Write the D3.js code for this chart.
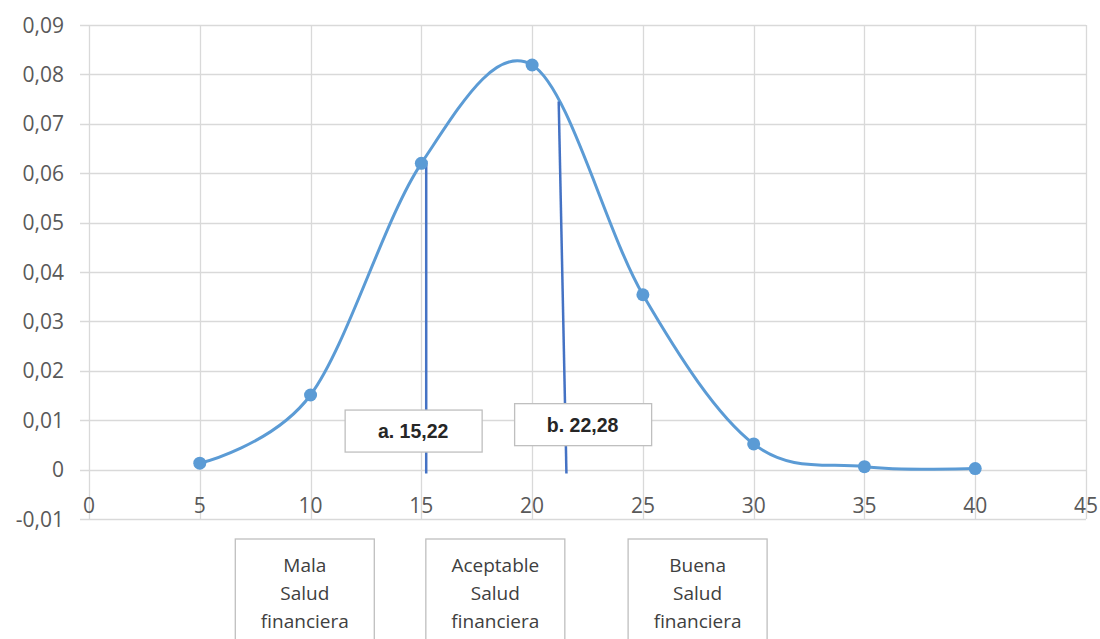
<!DOCTYPE html>
<html><head><meta charset="utf-8">
<script src="https://cdn.jsdelivr.net/npm/d3@7"></script>
<style>html,body{margin:0;padding:0;background:#fff;}svg{display:block;}</style>
</head><body>
<svg id="chart" width="1100" height="639"></svg>
<script>
// ---- data ----
const xValues = [5, 10, 15, 20, 25, 30, 35, 40];
const yValues = [0.0013, 0.0151, 0.0620, 0.0819, 0.0354, 0.0052, 0.0006, 0.0002];
const xTicks = [0, 5, 10, 15, 20, 25, 30, 35, 40, 45];
const yTicks = [-0.01, 0, 0.01, 0.02, 0.03, 0.04, 0.05, 0.06, 0.07, 0.08, 0.09];
const markerNames = ["a. 15,22", "b. 22,28"];
const markerTopX = [15.22, 21.2];
const markerTopY = [0.0625, 0.0745];
const markerBottomX = [15.22, 21.55];
const markerBottomY = [-0.0008, -0.0008];
const markerLabelX = [14.63, 22.28];
const markerLabelY = [0.0078, 0.0091];
const categoryLines = [["Mala", "Salud", "financiera"], ["Aceptable", "Salud", "financiera"], ["Buena", "Salud", "financiera"]];
const categoryX = [9.74, 18.34, 27.47];

// ---- layout ----
const svg = d3.select("#chart");
const x = d3.scaleLinear().domain([0, 45]).range([89, 1086]);
const y = d3.scaleLinear().domain([-0.01, 0.09]).range([519, 25]);
const yFmt = v => (Math.abs(v) < 1e-12 ? "0" : d3.format(".2f")(v).replace(".", ",").replace("\u2212", "-"));
const grid = "#d9d9d9";
const txt = "#595959";

// horizontal gridlines (with small tick extension to the left)
svg.append("g").selectAll("line").data(yTicks).join("line")
  .attr("x1", x(0) - 9).attr("x2", x(45))
  .attr("y1", d => Math.round(y(d)) + 0.5).attr("y2", d => Math.round(y(d)) + 0.5)
  .attr("stroke", grid).attr("stroke-width", 1.3);
// vertical gridlines
svg.append("g").selectAll("line").data(xTicks).join("line")
  .attr("x1", d => Math.round(x(d)) + 0.5).attr("x2", d => Math.round(x(d)) + 0.5)
  .attr("y1", y(0.09)).attr("y2", y(-0.01))
  .attr("stroke", grid).attr("stroke-width", 1.3);

// y labels
svg.append("g").selectAll("text").data(yTicks).join("text")
  .attr("x", 64).attr("y", d => y(d)).attr("dy", "0.36em")
  .attr("text-anchor", "end").attr("fill", txt)
  .style("font-family", "'Open Sans', sans-serif").style("font-size", "21px")
  .text(yFmt);
// x labels
svg.append("g").selectAll("text").data(xTicks).join("text")
  .attr("x", d => x(d)).attr("y", 505).attr("dy", "0.36em")
  .attr("text-anchor", "middle").attr("fill", txt)
  .style("font-family", "'Open Sans', sans-serif").style("font-size", "21px")
  .text(d => d);

// curve (Excel-style smoothing = uniform Catmull-Rom)
const pts = xValues.map((v, i) => [v, yValues[i]]);
const line = d3.line().x(d => x(d[0])).y(d => y(d[1])).curve(d3.curveCardinal.tension(0));
svg.append("path").datum(pts).attr("d", line)
  .attr("fill", "none").attr("stroke", "#5b9bd5").attr("stroke-width", 3).attr("stroke-linecap", "round");

// marker vertical lines
svg.append("g").selectAll("line").data(markerNames).join("line")
  .attr("x1", (d, i) => x(markerTopX[i])).attr("y1", (d, i) => y(markerTopY[i]))
  .attr("x2", (d, i) => x(markerBottomX[i])).attr("y2", (d, i) => y(markerBottomY[i]))
  .attr("stroke", "#4472c4").attr("stroke-width", 2.5);

// points
svg.append("g").selectAll("circle").data(pts).join("circle")
  .attr("cx", d => x(d[0])).attr("cy", d => y(d[1])).attr("r", 6.5)
  .attr("fill", "#5b9bd5");

// marker label boxes
const lb = svg.append("g").selectAll("g").data(markerNames).join("g")
  .attr("transform", (d, i) => `translate(${x(markerLabelX[i])},${y(markerLabelY[i])})`);
lb.append("rect").attr("x", -68).attr("y", -21).attr("width", 137).attr("height", 42)
  .attr("fill", "#fff").attr("stroke", "#bfbfbf").attr("stroke-width", 1.3);
lb.append("text").attr("text-anchor", "middle").attr("dy", "0.36em")
  .attr("fill", "#262626").style("font-family", "'Liberation Sans', Arial, sans-serif")
  .style("font-weight", "bold").style("font-size", "19.5px").text(d => d);

// category boxes below
const cb = svg.append("g").selectAll("g").data(categoryLines).join("g")
  .attr("transform", (d, i) => `translate(${x(categoryX[i])},539)`);
cb.append("rect").attr("x", -69.5).attr("y", 0).attr("width", 139).attr("height", 110)
  .attr("fill", "#fff").attr("stroke", "#bfbfbf").attr("stroke-width", 1.3);
cb.each(function(lines) {
  d3.select(this).selectAll("text").data(lines).join("text")
    .attr("text-anchor", "middle").attr("x", 0).attr("y", (d, j) => 26 + j * 28).attr("dy", "0.36em")
    .attr("fill", "#404040").style("font-family", "'Open Sans', sans-serif").style("font-size", "19px")
    .text(d => d);
});
</script>
</body></html>
